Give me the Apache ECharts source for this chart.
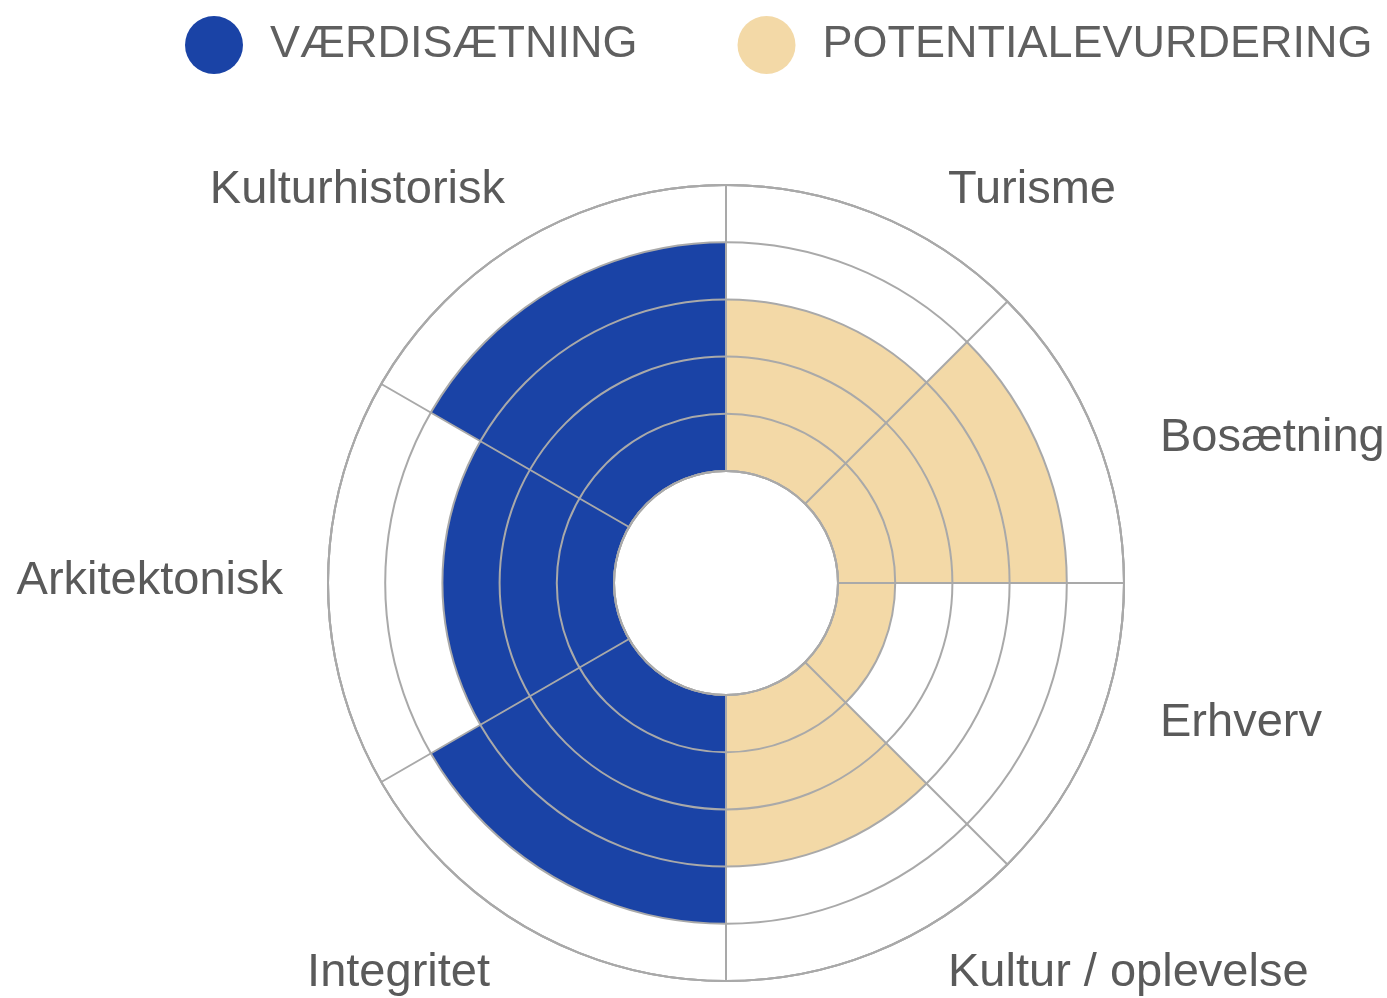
<!DOCTYPE html>
<html>
<head>
<meta charset="utf-8">
<script src="https://cdn.jsdelivr.net/npm/echarts@6/dist/echarts.min.js"></script>
<style>
  html, body { margin: 0; padding: 0; background: #fff; }
  #chart { width: 1387px; height: 998px; }
</style>
</head>
<body>
<div id="chart"></div>
<script>
// data
const seriesNames = ["VÆRDISÆTNING", "POTENTIALEVURDERING"];
const valueCategories = ["Kulturhistorisk", "Arkitektonisk", "Integritet"];
const valueData = [4, 3, 4];
const potentialCategories = ["Turisme", "Bosætning", "Erhverv", "Kultur / oplevelse"];
const potentialData = [3, 4, 1, 3];
const radiusMin = 0, radiusMax = 5, radiusStep = 1;

// label placement (x, y, align) - labels sit freely around the wheel
const labelPlaces = {
  "Kulturhistorisk": [505, 190, "right"],
  "Arkitektonisk": [283, 581, "right"],
  "Integritet": [490, 973, "right"],
  "Turisme": [948, 190, "left"],
  "Bosætning": [1160, 438, "left"],
  "Erhverv": [1160, 723, "left"],
  "Kultur / oplevelse": [948, 973, "left"]
};

const blue = "#1a43a6";
const beige = "#f3d9a7";
const lineColor = "#a9a9a9";

const myChart = echarts.init(document.getElementById("chart"));

function radiusAxis(idx) {
  return {
    polarIndex: idx,
    type: "value",
    min: radiusMin,
    max: radiusMax,
    interval: radiusStep,
    z: 5,
    axisLine: { show: false },
    axisTick: { show: false },
    axisLabel: { show: false },
    splitLine: { show: true, lineStyle: { color: lineColor, width: 2 } }
  };
}

function angleAxis(idx, cats, start, end, clockwise) {
  return {
    polarIndex: idx,
    type: "category",
    data: cats,
    startAngle: start,
    endAngle: end,
    clockwise: clockwise,
    boundaryGap: true,
    z: 5,
    axisLine: { show: true, lineStyle: { color: lineColor, width: 2 } },
    axisTick: { show: false },
    axisLabel: { show: false },
    splitLine: { show: true, lineStyle: { color: lineColor, width: 2 } }
  };
}

let labels = valueCategories.concat(potentialCategories).map(function (name) {
  const p = labelPlaces[name];
  return {
    type: "text",
    x: p[0],
    y: p[1],
    style: {
      text: name,
      fill: "#5a5a5a",
      font: "47px 'Liberation Sans', Arial, sans-serif",
      textAlign: p[2],
      textVerticalAlign: "middle"
    }
  };
});

let option = {
  backgroundColor: "#fff",
  animation: false,
  legend: {
    data: seriesNames,
    left: 180,
    top: 11,
    width: 1300,
    icon: "circle",
    itemWidth: 58,
    itemHeight: 58,
    itemGap: 100,
    textStyle: {
      color: "#5f5f5f",
      fontSize: 45,
      fontFamily: "'Liberation Sans', Arial, sans-serif",
      padding: [0, 0, 0, 22]
    }
  },
  polar: [
    { center: [726, 583], radius: [112, 398] },
    { center: [726, 583], radius: [112, 398] }
  ],
  angleAxis: [
    angleAxis(0, valueCategories, 90, 270, false),
    angleAxis(1, potentialCategories, 90, -90, true)
  ],
  radiusAxis: [radiusAxis(0), radiusAxis(1)],
  series: [
    {
      name: seriesNames[0],
      type: "bar",
      coordinateSystem: "polar",
      polarIndex: 0,
      data: valueData,
      barCategoryGap: "0%",
      itemStyle: { color: blue },
      z: 2
    },
    {
      name: seriesNames[1],
      type: "bar",
      coordinateSystem: "polar",
      polarIndex: 1,
      data: potentialData,
      barCategoryGap: "0%",
      itemStyle: { color: beige },
      z: 2
    }
  ],
  graphic: labels
};

myChart.setOption(option);
window.addEventListener("resize", function () {
  myChart.resize();
});
</script>
</body>
</html>
